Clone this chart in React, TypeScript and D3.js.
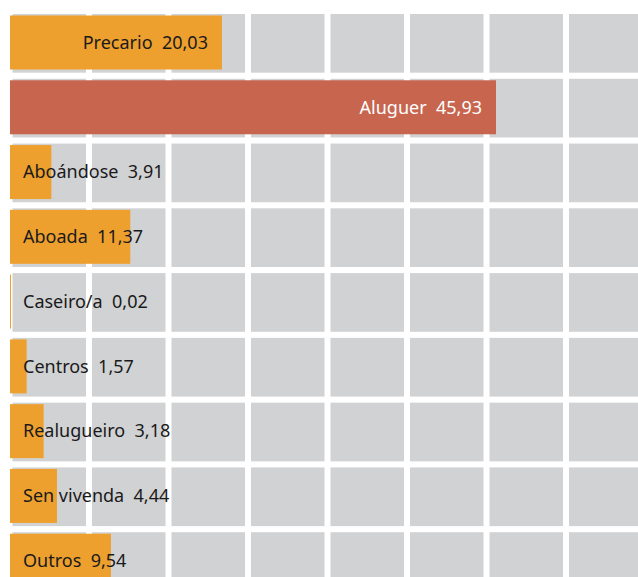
import React from 'react'
import * as d3 from 'd3'

const categories = ['Precario', 'Aluguer', 'Aboándose', 'Aboada', 'Caseiro/a', 'Centros', 'Realugueiro', 'Sen vivenda', 'Outros']
const values = [20.03, 45.93, 3.91, 11.37, 0.02, 1.57, 3.18, 4.44, 9.54]
const valueLabels = ['20,03', '45,93', '3,91', '11,37', '0,02', '1,57', '3,18', '4,44', '9,54']
const highlight = 'Aluguer'

const W = 638
const H = 577

export default function App() {
  const x = d3.scaleLinear().domain([0, 45.93]).range([10, 496])
  const y = d3
    .scaleBand<string>()
    .domain(categories)
    .range([14, 14 + 64.1 * categories.length])
    .paddingInner(0.094)
    .paddingOuter(0)

  // background grid cells
  const colStep = 79.5
  const cols = d3.range(8).map((i) => 12.5 + i * colStep)

  return (
    <svg
      width={W}
      height={H}
      style={{ position: 'absolute', left: 0, top: 0, background: '#fff' }}
      fontFamily="'Noto Sans', 'Open Sans', sans-serif"
    >
      {categories.map((c) => (
        <g key={'row-' + c}>
          {cols.map((cx) => (
            <rect key={cx} x={cx} y={y(c)} width={73.5} height={y.bandwidth()} fill="#d1d2d4" />
          ))}
        </g>
      ))}
      {categories.map((c, i) => {
        const w = Math.max(1, x(values[i]) - x(0))
        const by = (y(c) ?? 0) + 1.5
        const bh = 54
        const inside = values[i] > 15
        const isHi = c === highlight
        return (
          <g key={c}>
            <rect x={x(0)} y={by} width={w} height={bh} fill={isHi ? '#c8654e' : '#eea02e'} />
            <text
              x={inside ? x(0) + w - 14 : 23}
              y={by + bh / 2}
              dy="0.35em"
              textAnchor={inside ? 'end' : 'start'}
              fontSize={18}
              fill={isHi ? '#ffffff' : '#1a1a1a'}
              style={{ whiteSpace: 'pre' }}
            >
              {c + '  ' + valueLabels[i]}
            </text>
          </g>
        )
      })}
    </svg>
  )
}
